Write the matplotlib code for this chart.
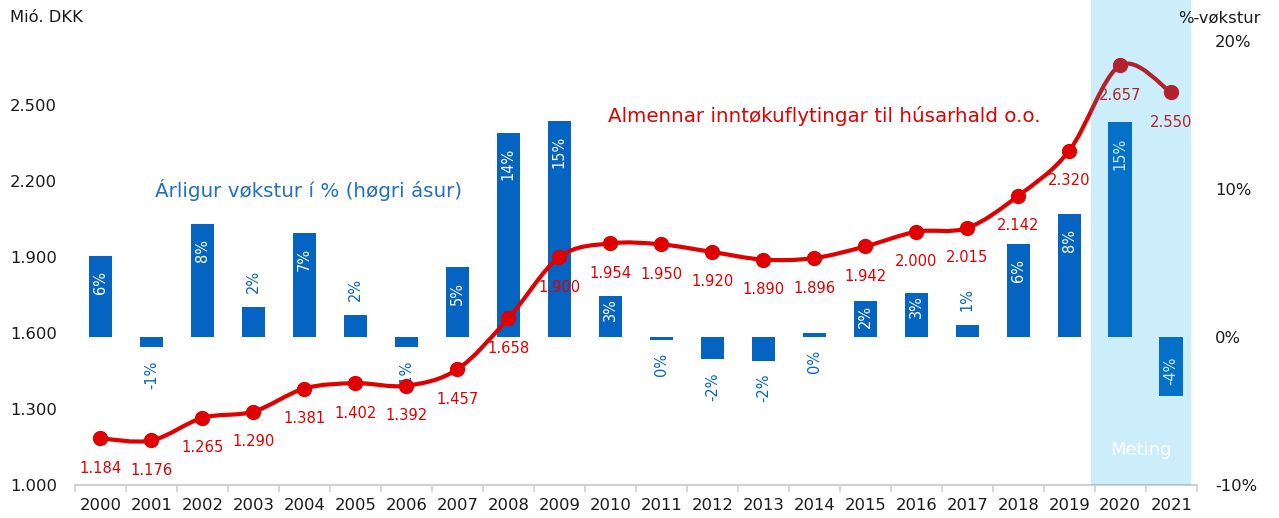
import numpy as np
import matplotlib
matplotlib.use("Agg")
import matplotlib.pyplot as plt
from matplotlib.path import Path
from matplotlib.patches import PathPatch

# Data
years = [str(y) for y in range(2000, 2022)]
flytingar = [1184, 1176, 1265, 1290, 1381, 1402, 1392, 1457, 1658, 1900, 1954,
             1950, 1920, 1890, 1896, 1942, 2000, 2015, 2142, 2320, 2657, 2550]
vokstur = [5.5, -0.7, 7.6, 2.0, 7.0, 1.5, -0.7, 4.7, 13.8, 14.6, 2.8,
           -0.2, -1.5, -1.6, 0.3, 2.4, 3.0, 0.8, 6.3, 8.3, 14.5, -4.0]
vokstur_labels = ["6%", "-1%", "8%", "2%", "7%", "2%", "-1%", "5%", "14%", "15%", "3%",
                  "0%", "-2%", "-2%", "0%", "2%", "3%", "1%", "6%", "8%", "15%", "-4%"]
value_labels = ["1.184", "1.176", "1.265", "1.290", "1.381", "1.402", "1.392", "1.457",
                "1.658", "1.900", "1.954", "1.950", "1.920", "1.890", "1.896", "1.942",
                "2.000", "2.015", "2.142", "2.320", "2.657", "2.550"]
left_ticks = [1000, 1300, 1600, 1900, 2200, 2500]
right_ticks = [-10, 0, 10, 20]

RED = "#E00000"
BLUE = "#0563C1"
TXT = "#1a1a1a"

fig = plt.figure(figsize=(12.79, 5.18), dpi=100)
ax1 = fig.add_axes([75 / 1279, 33 / 518, 1121.7 / 1279, 485 / 518])
ax2 = ax1.twinx()
ax1.set_zorder(ax2.get_zorder() + 1)
ax1.patch.set_visible(False)

x = np.arange(len(years))

# bars - yearly growth (right axis)
ax2.bar(x, vokstur, width=0.46, color=BLUE, zorder=2)
for i, (v, lab) in enumerate(zip(vokstur, vokstur_labels)):
    if abs(v) >= 2.2:
        if v > 0:
            # short bars: label pushed up to the bar end
            off = -15 if v > 4 else -3
            ax2.annotate(lab, (i, v), xytext=(0, off), textcoords="offset pixels",
                         rotation=90, ha="center", va="top", color="white", fontsize=10.5)
        else:
            ax2.annotate(lab, (i, v), xytext=(0, 11), textcoords="offset pixels",
                         rotation=90, ha="center", va="bottom", color="white", fontsize=10.5)
    elif v > 0.5:
        ax2.annotate(lab, (i, v), xytext=(0, 14), textcoords="offset pixels",
                     rotation=90, ha="center", va="bottom", color=BLUE, fontsize=10.5)
    else:
        ax2.annotate(lab, (i, min(v, 0)), xytext=(0, -13), textcoords="offset pixels",
                     rotation=90, ha="center", va="top", color=BLUE, fontsize=10.5)

# smoothed line (Catmull-Rom -> bezier, like excel smoothing)
pts = np.column_stack([x, flytingar]).astype(float)
verts = [pts[0]]
codes = [Path.MOVETO]
n = len(pts)
for i in range(n - 1):
    p0 = pts[i - 1] if i > 0 else pts[i]
    p1 = pts[i]
    p2 = pts[i + 1]
    p3 = pts[i + 2] if i + 2 < n else pts[i + 1]
    verts += [p1 + (p2 - p0) / 6, p2 - (p3 - p1) / 6, p2]
    codes += [Path.CURVE4] * 3
ax1.add_patch(PathPatch(Path(verts, codes), facecolor="none", edgecolor=RED,
                        lw=3, capstyle="round", zorder=3))
ax1.plot(x, flytingar, "o", color=RED, markersize=10, zorder=4)
for i, (v, lab) in enumerate(zip(flytingar, value_labels)):
    ax1.annotate(lab, (i, v), xytext=(0, -30), textcoords="offset pixels",
                 ha="center", va="center", color=RED, fontsize=10.6, zorder=5)

# forecast shading on top
ax1.axvspan(19.42, 21.38, color="#00A8E6", alpha=0.2, lw=0, zorder=10)
ax1.text(0.950, 0.072, "Meting", transform=ax1.transAxes, ha="center", va="center",
         color="white", fontsize=13, zorder=11)

# axes
ax1.set_xlim(-0.5, len(years) - 0.5)
ax1.set_ylim(1000, 2915)
ax2.set_ylim(-10, 22.76)
ax1.set_yticks(left_ticks)
ax1.set_yticklabels([f"{t:,}".replace(",", ".") for t in left_ticks])
ax2.set_yticks(right_ticks)
ax2.set_yticklabels([f"{t}%" for t in right_ticks])

ax1.set_xticks(np.arange(-0.5, len(years), 1))
ax1.set_xticklabels([])
ax1.set_xticks(x, minor=True)
ax1.set_xticklabels(years, minor=True)
ax1.tick_params(axis="x", which="major", length=5, width=1.2, color="#D0D0D0")
ax1.tick_params(axis="x", which="minor", length=0, pad=9, labelsize=11.8, labelcolor=TXT)
ax1.tick_params(axis="y", length=0, pad=13, labelsize=11.8, labelcolor=TXT)
ax2.tick_params(axis="y", length=0, pad=13, labelsize=11.8, labelcolor=TXT)

for a in (ax1, ax2):
    for s in ("top", "left", "right"):
        a.spines[s].set_visible(False)
    a.spines["bottom"].set_color("#D0D0D0")
    a.spines["bottom"].set_linewidth(1.5)
ax2.spines["bottom"].set_visible(False)

# texts
ax1.text(0.475, 0.761, "Almennar inntøkuflytingar til húsarhald o.o.", transform=ax1.transAxes,
         ha="left", va="center", color=RED, fontsize=14.3)
ax1.text(0.0713, 0.608, "Árligur vøkstur í % (høgri ásur)", transform=ax1.transAxes,
         ha="left", va="center", color="#1F6FC6", fontsize=14.3)
fig.text(10 / 1279, 1 - 18 / 518, "Mió. DKK", ha="left", va="center", color=TXT, fontsize=11.8)
fig.text(1261 / 1279, 1 - 18 / 518, "%-vøkstur", ha="right", va="center", color=TXT, fontsize=11.8)

fig.savefig("out.png", dpi=100)
